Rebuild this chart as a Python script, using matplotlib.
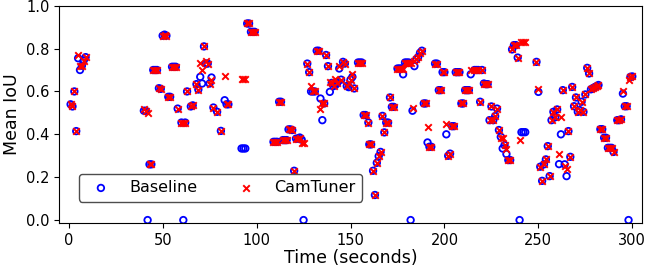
import matplotlib
matplotlib.use("Agg")
import matplotlib.pyplot as plt

time_s = [1, 2, 3, 4, 5, 6, 7, 8, 9,
          40, 41, 42, 43, 44, 45, 46, 47, 48, 49, 50, 51, 52, 53, 54, 55, 56, 57, 58,
          60, 61, 62, 63, 65, 66, 68, 69, 70, 71, 72, 73, 74, 75, 76, 77, 79, 81, 83, 84, 85,
          92, 93, 94, 95, 96, 97, 98, 99,
          109, 110, 111, 112, 113, 114, 115, 116, 117, 118, 119, 120, 121, 122, 123, 124, 125,
          127, 128, 129, 130, 131, 132, 133, 134, 135, 136, 137, 138, 139, 140, 141, 142, 143,
          144, 145, 146, 147, 148, 149, 150, 151, 152, 154, 155, 156, 157, 158, 159.5, 160, 161,
          162, 163, 164, 165, 166, 167, 168, 169, 170, 171, 172, 173, 175, 176, 177, 178, 179,
          180, 181, 182, 183, 184, 185, 186, 187, 188, 189, 190, 191, 192, 193, 195, 196, 197,
          198, 199, 200, 201, 202, 203, 204, 205, 206, 207, 208, 209, 210, 211, 212, 213, 214,
          216, 217, 218, 219, 220, 221, 222, 223, 224, 225, 226, 227, 228, 229, 230, 231, 232,
          233, 234, 235, 236, 237, 238, 239, 240, 241, 242, 243,
          249, 250, 251, 252, 253, 254, 255, 256, 257, 258, 259, 260, 261, 262, 263, 264, 265,
          266, 267, 268, 269, 270, 271, 272, 273, 274, 275, 276, 277, 278, 279, 280, 281, 282,
          283, 284, 285, 286, 287, 288, 289, 290, 292, 293, 294, 295, 296, 297, 298, 299, 300]

baseline_iou = [0.54, 0.53, 0.60, 0.415, 0.755, 0.70, 0.72, 0.745, 0.76,
                0.51, 0.51, 0.00, 0.26, 0.26, 0.70, 0.70, 0.70, 0.615, 0.612, 0.86, 0.865, 0.86,
                0.575, 0.575, 0.715, 0.715, 0.715, 0.52,
                0.455, 0.00, 0.455, 0.60, 0.53, 0.535, 0.634, 0.609, 0.668, 0.637, 0.81, 0.73,
                0.73, 0.637, 0.665, 0.525, 0.505, 0.416, 0.559, 0.54, 0.54,
                0.334, 0.334, 0.334, 0.917, 0.917, 0.878, 0.878, 0.878,
                0.365, 0.365, 0.365, 0.552, 0.552, 0.373, 0.373, 0.373, 0.423, 0.423, 0.42, 0.23,
                0.38, 0.38, 0.385, 0.375, 0.00,
                0.73, 0.69, 0.60, 0.60, 0.60, 0.79, 0.79, 0.567, 0.466, 0.544, 0.77, 0.718, 0.598,
                0.64, 0.625, 0.63, 0.64,
                0.707, 0.655, 0.738, 0.73, 0.625, 0.62, 0.655, 0.668, 0.614, 0.735, 0.735, 0.735,
                0.49, 0.49, 0.455, 0.353, 0.353,
                0.23, 0.117, 0.267, 0.298, 0.318, 0.486, 0.409, 0.455, 0.455, 0.572, 0.528, 0.528,
                0.707, 0.707, 0.707, 0.68, 0.735,
                0.735, 0.735, 0.00, 0.51, 0.718, 0.75, 0.76, 0.78, 0.79, 0.544, 0.544, 0.362,
                0.342, 0.342, 0.73, 0.73, 0.606,
                0.606, 0.69, 0.69, 0.40, 0.30, 0.31, 0.438, 0.438, 0.69, 0.69, 0.69, 0.544, 0.544,
                0.606, 0.606, 0.606, 0.68,
                0.70, 0.70, 0.70, 0.552, 0.70, 0.637, 0.634, 0.634, 0.466, 0.53, 0.466, 0.485,
                0.52, 0.42, 0.388, 0.334, 0.35,
                0.308, 0.28, 0.28, 0.796, 0.816, 0.816, 0.758, 0.00, 0.41, 0.41, 0.41,
                0.738, 0.598, 0.249, 0.183, 0.26, 0.283, 0.345, 0.205, 0.466, 0.505, 0.48, 0.516,
                0.261, 0.40, 0.606, 0.26, 0.205,
                0.415, 0.295, 0.621, 0.531, 0.572, 0.505, 0.513, 0.552, 0.505, 0.586, 0.71, 0.684,
                0.61, 0.615, 0.62, 0.625, 0.63,
                0.424, 0.424, 0.384, 0.384, 0.337, 0.337, 0.337, 0.318, 0.466, 0.466, 0.47, 0.59,
                0.531, 0.531, 0.00, 0.668, 0.67]

camtuner_iou = [0.54, 0.53, 0.60, 0.415, 0.77, 0.72, 0.72, 0.74, 0.76,
                0.52, 0.51, 0.50, 0.26, 0.26, 0.70, 0.70, 0.70, 0.615, 0.612, 0.86, 0.865, 0.86,
                0.575, 0.575, 0.715, 0.715, 0.715, 0.52,
                0.455, 0.455, 0.455, 0.60, 0.53, 0.535, 0.634, 0.609, 0.733, 0.70, 0.81, 0.74,
                0.73, 0.637, 0.653, 0.525, 0.505, 0.416, 0.671, 0.54, 0.54,
                0.659, 0.659, 0.659, 0.917, 0.917, 0.878, 0.878, 0.878,
                0.365, 0.365, 0.365, 0.552, 0.552, 0.373, 0.373, 0.373, 0.423, 0.423, 0.42, 0.23,
                0.38, 0.38, 0.385, 0.36, 0.36,
                0.73, 0.69, 0.625, 0.60, 0.60, 0.79, 0.79, 0.52, 0.544, 0.544, 0.77, 0.718, 0.645,
                0.64, 0.625, 0.66, 0.64,
                0.72, 0.655, 0.738, 0.73, 0.625, 0.64, 0.655, 0.68, 0.614, 0.735, 0.735, 0.735,
                0.49, 0.49, 0.455, 0.353, 0.353,
                0.23, 0.117, 0.267, 0.298, 0.318, 0.486, 0.409, 0.455, 0.455, 0.572, 0.528, 0.528,
                0.707, 0.707, 0.707, 0.707, 0.735,
                0.735, 0.735, 0.735, 0.525, 0.74, 0.75, 0.76, 0.78, 0.79, 0.544, 0.544, 0.432,
                0.342, 0.342, 0.73, 0.73, 0.606,
                0.606, 0.69, 0.69, 0.448, 0.30, 0.31, 0.438, 0.438, 0.69, 0.69, 0.69, 0.544, 0.544,
                0.606, 0.606, 0.606, 0.70,
                0.70, 0.70, 0.70, 0.552, 0.70, 0.637, 0.634, 0.634, 0.466, 0.53, 0.466, 0.485,
                0.52, 0.42, 0.385, 0.385, 0.35,
                0.33, 0.28, 0.28, 0.796, 0.816, 0.816, 0.758, 0.373, 0.83, 0.83, 0.83,
                0.738, 0.61, 0.249, 0.183, 0.26, 0.283, 0.345, 0.205, 0.466, 0.505, 0.48, 0.516,
                0.308, 0.48, 0.606, 0.25, 0.236,
                0.415, 0.295, 0.621, 0.531, 0.572, 0.505, 0.513, 0.552, 0.505, 0.586, 0.71, 0.684,
                0.61, 0.615, 0.62, 0.625, 0.63,
                0.424, 0.424, 0.384, 0.384, 0.337, 0.337, 0.337, 0.318, 0.466, 0.466, 0.47, 0.603,
                0.531, 0.531, 0.655, 0.668, 0.67]

x_ticks = [0, 50, 100, 150, 200, 250, 300]
y_ticks = [0.0, 0.2, 0.4, 0.6, 0.8, 1.0]

fig = plt.figure(figsize=(6.47, 2.67), dpi=100)
ax = fig.add_axes([0.0917, 0.1637, 0.9001, 0.815])

ax.scatter(time_s, baseline_iou, s=22, facecolors="none", edgecolors="blue",
           linewidths=1.3, marker="o", label="Baseline", zorder=2)
ax.scatter(time_s, camtuner_iou, s=22, c="red", marker="x",
           linewidths=1.4, label="CamTuner", zorder=3)

ax.set_xlim(-5, 305)
ax.set_ylim(-0.015, 1.0)
ax.set_xticks(x_ticks)
ax.set_yticks(y_ticks)
ax.tick_params(labelsize=10.5)
ax.set_xlabel("Time (seconds)", fontsize=12.5, labelpad=1)
ax.set_ylabel("Mean IoU", fontsize=12.5, labelpad=4)

leg = ax.legend(loc="lower left", bbox_to_anchor=(0.033, 0.1), borderaxespad=0,
                ncol=2, fontsize=11.5, framealpha=1, edgecolor="0.3", fancybox=True)

fig.savefig("out.png", dpi=100)
